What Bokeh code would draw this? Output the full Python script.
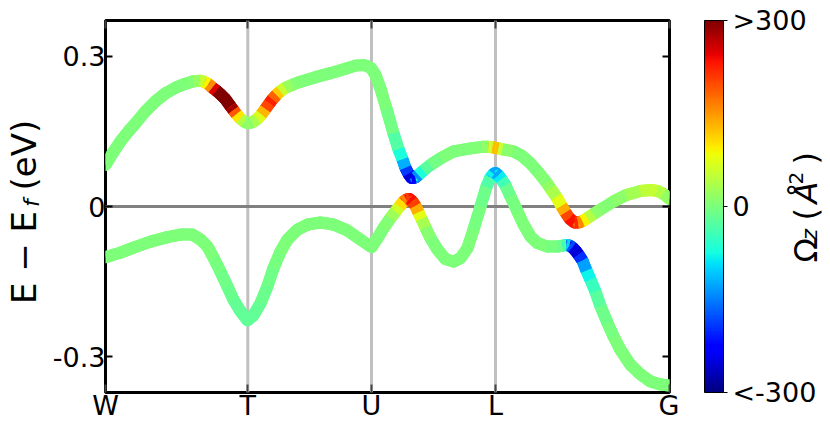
import numpy as np
from bokeh.plotting import figure
from bokeh.layouts import row
from bokeh.models import (ColumnDataSource, LinearColorMapper, ColorBar, FixedTicker,
                          LinearAxis, Span, Range1d)
from bokeh.core.properties import value
from bokeh.transform import transform
from bokeh.embed import file_html
from bokeh.resources import INLINE

# ---------------- data ----------------
KLABELS = ["W", "T", "U", "L", "G"]
KPOS = [0.0, 1.423, 2.66, 3.90, 5.64]
YTICKS = [-0.3, 0.0, 0.3]
YTICK_LABELS = ["-0.3", "0", "0.3"]
CB_TICKS = [-300, 0, 300]
CB_LABELS = ["<-300", "0", ">300"]

UPPER_K = [0.00, 0.07, 0.15, 0.23, 0.30, 0.40, 0.50, 0.60, 0.70, 0.80,
           0.88, 0.95, 0.99, 1.03, 1.07, 1.11, 1.15, 1.20, 1.25, 1.28,
           1.31, 1.35, 1.39, 1.43, 1.47, 1.52, 1.56, 1.60, 1.64, 1.67,
           1.71, 1.75, 1.80, 1.87, 1.95, 2.10, 2.25, 2.40, 2.50, 2.58,
           2.63, 2.66, 2.70, 2.75, 2.81, 2.88, 2.93, 2.97, 3.00, 3.03,
           3.06, 3.10, 3.13, 3.18, 3.25, 3.35, 3.48, 3.65, 3.77, 3.83,
           3.87, 3.90, 3.93, 3.97, 4.08, 4.17, 4.25, 4.33, 4.41, 4.45,
           4.51, 4.56, 4.60, 4.64, 4.69, 4.73, 4.77, 4.82, 4.88, 4.95,
           5.08, 5.21, 5.35, 5.45, 5.52, 5.58, 5.64]
UPPER_E = [0.083, 0.106, 0.130, 0.150, 0.166, 0.190, 0.210, 0.226, 0.237, 0.245,
           0.250, 0.251, 0.248, 0.244, 0.237, 0.231, 0.224, 0.214, 0.200, 0.192,
           0.184, 0.175, 0.169, 0.166, 0.168, 0.175, 0.184, 0.195, 0.206, 0.214,
           0.223, 0.230, 0.237, 0.243, 0.249, 0.258, 0.266, 0.275, 0.281, 0.282,
           0.279, 0.275, 0.262, 0.235, 0.195, 0.146, 0.114, 0.094, 0.077, 0.065,
           0.057, 0.058, 0.063, 0.072, 0.083, 0.096, 0.110, 0.116, 0.119, 0.119,
           0.118, 0.117, 0.116, 0.114, 0.110, 0.100, 0.086, 0.068, 0.048, 0.036,
           0.019, 0.001, -0.012, -0.024, -0.032, -0.032, -0.029, -0.023, -0.015, -0.006,
           0.010, 0.023, 0.031, 0.033, 0.031, 0.025, 0.015]
UPPER_W = [0, 0, 0, 0, 0, 0, 0, 0, 0, 0,
           5, 30, 70, 110, 200, 300, 350, 350, 320, 240,
           140, 60, 20, 5, 15, 50, 90, 170, 230, 220,
           150, 80, 30, 10, 0, 0, 0, 0, 0, 0,
           0, 0, 0, 0, 0, -10, -50, -90, -150, -230,
           -280, -180, -100, -40, -10, 0, 0, 0, 5, 20,
           90, 160, 90, 20, 0, 0, 0, 0, 10, 20,
           50, 100, 170, 230, 240, 200, 120, 60, 20, 5,
           5, 20, 40, 55, 50, 25, 10]

LOWER_K = [0.00, 0.15, 0.28, 0.45, 0.62, 0.75, 0.87, 0.95, 1.02, 1.08,
           1.15, 1.22, 1.28, 1.35, 1.42, 1.48, 1.55, 1.62, 1.68, 1.75,
           1.82, 1.92, 2.02, 2.15, 2.28, 2.42, 2.55, 2.66, 2.72, 2.78,
           2.85, 2.90, 2.94, 2.98, 3.01, 3.04, 3.07, 3.10, 3.13, 3.16,
           3.20, 3.25, 3.32, 3.40, 3.48, 3.55, 3.62, 3.68, 3.75, 3.81,
           3.85, 3.88, 3.90, 3.93, 3.96, 4.00, 4.05, 4.12, 4.18, 4.25,
           4.32, 4.42, 4.52, 4.57, 4.61, 4.64, 4.67, 4.70, 4.73, 4.77,
           4.81, 4.85, 4.90, 4.95, 5.02, 5.08, 5.15, 5.25, 5.35, 5.45,
           5.55, 5.64]
LOWER_E = [-0.101, -0.092, -0.082, -0.070, -0.061, -0.056, -0.056, -0.066, -0.080, -0.102,
           -0.130, -0.160, -0.186, -0.209, -0.227, -0.217, -0.193, -0.159, -0.123, -0.090,
           -0.066, -0.046, -0.036, -0.032, -0.036, -0.048, -0.066, -0.081, -0.063, -0.043,
           -0.023, -0.010, 0.000, 0.010, 0.014, 0.015, 0.010, 0.001, -0.012, -0.025,
           -0.042, -0.063, -0.086, -0.105, -0.110, -0.103, -0.083, -0.046, 0.000, 0.040,
           0.058, 0.065, 0.067, 0.062, 0.054, 0.042, 0.020, -0.010, -0.036, -0.060,
           -0.073, -0.080, -0.080, -0.078, -0.077, -0.078, -0.082, -0.088, -0.096, -0.108,
           -0.128, -0.146, -0.170, -0.199, -0.232, -0.259, -0.286, -0.316, -0.335, -0.349,
           -0.355, -0.357]
LOWER_W = [0, 0, 0, 0, 0, 0, 0, 0, 0, 0,
           -5, -10, -15, -20, -20, -20, -15, -10, -5, 0,
           0, 0, 0, 0, 0, 0, 0, 0, 0, 0,
           10, 40, 80, 130, 190, 230, 240, 170, 100, 50,
           15, 0, 0, 0, 0, 0, 0, 0, -5, -15,
           -50, -110, -140, -110, -60, -20, -5, 0, 0, 0,
           0, 0, -5, -15, -60, -140, -220, -280, -230, -160,
           -100, -60, -35, -15, -5, 0, 0, 0, 0, 0,
           0, 0]

NB = "\u00a0"
TH = "\u2009"
YLABEL_MAIN = NB + "E − E" + TH * 3 + "(eV)" + NB + NB
YLABEL_SUB = NB + "f"
CBLABEL_PARTS = ["Ω", "z", "(", "Å", "2", ")"]

# ---------------- jet colormap ----------------
def jet_palette(n=256):
    t = np.linspace(0, 1, n)
    r = np.interp(t, [0, 0.35, 0.66, 0.89, 1], [0, 0, 1, 1, 0.5])
    g = np.interp(t, [0, 0.125, 0.375, 0.64, 0.91, 1], [0, 0, 1, 1, 0, 0])
    b = np.interp(t, [0, 0.11, 0.34, 0.65, 1], [0.5, 1, 1, 0, 0])
    return ["#%02x%02x%02x" % (int(round(R * 255)), int(round(G * 255)), int(round(B * 255)))
            for R, G, B in zip(r, g, b)]

mapper = LinearColorMapper(palette=jet_palette(), low=-300, high=300)

FONT = "DejaVu Sans"
H = 433
TOP_B, BOT_B = 20, 41          # frame borders (frames of a row are aligned)
MAIN_W = 679
RIGHT_W = 830 - MAIN_W

# ---------------- main ----------------
p = figure(width=MAIN_W, height=H, x_range=Range1d(0, KPOS[-1]), y_range=Range1d(-0.371, 0.371),
           output_backend="svg", toolbar_location=None,
           min_border_left=105, min_border_right=10, min_border_top=TOP_B, min_border_bottom=BOT_B)
p.grid.visible = False
p.outline_line_color = "black"
p.outline_line_width = 3
p.background_fill_color = "white"
p.border_fill_color = "white"

for k in KPOS[1:-1]:
    p.add_layout(Span(location=k, dimension="height", line_color="#c0c0c0", line_width=3, level="underlay"))
p.add_layout(Span(location=0, dimension="width", line_color="#808080", line_width=3, level="underlay"))


def seg_source(k, e, w):
    k = np.asarray(k, float); e = np.asarray(e, float); w = np.asarray(w, float)
    return ColumnDataSource(dict(x0=k[:-1], y0=e[:-1], x1=k[1:], y1=e[1:], w=(w[:-1] + w[1:]) / 2))


for K, E, W in [(LOWER_K, LOWER_E, LOWER_W), (UPPER_K, UPPER_E, UPPER_W)]:
    src = seg_source(K, E, W)
    p.segment("x0", "y0", "x1", "y1", source=src,
              line_color=transform("w", mapper), line_width=12, line_cap="round")
    p.segment("x0", "y0", "x1", "y1", source=src,
              line_color=transform("w", mapper), line_width=12, line_cap="butt")


def style_axis(ax, tick_len):
    ax.axis_line_color = None
    ax.major_tick_in = tick_len
    ax.major_tick_out = 0
    ax.major_tick_line_color = "black"
    ax.major_tick_line_width = 2
    ax.minor_tick_line_color = None
    ax.major_label_text_font = FONT
    ax.major_label_text_font_size = "27px"
    ax.major_label_text_color = "black"


xa = p.xaxis[0]
xa.ticker = FixedTicker(ticks=KPOS)
xa.major_label_overrides = {k: l for k, l in zip(KPOS, KLABELS)}
style_axis(xa, 8)
xa.major_tick_line_color = "#444444"
xa.major_label_standoff = -3

ya = p.yaxis[0]
ya.ticker = FixedTicker(ticks=YTICKS)
ya.major_label_overrides = {k: l for k, l in zip(YTICKS, YTICK_LABELS)}
style_axis(ya, 7)
ya.major_label_standoff = 0
ya.axis_label = YLABEL_SUB
ya.axis_label_text_font = FONT
ya.axis_label_text_font_size = "22px"
ya.axis_label_text_font_style = "italic"
ya.axis_label_text_color = "black"
ya.axis_label_standoff = 6

# outer left axis carrying the main part of the y label
ylab = LinearAxis(ticker=FixedTicker(ticks=[]), axis_label=YLABEL_MAIN,
                  axis_line_color=None, major_tick_line_color=None, minor_tick_line_color=None,
                  major_label_text_font_size="1px", major_label_standoff=0,
                  axis_label_text_font=FONT, axis_label_text_font_size="34px",
                  axis_label_text_font_style="normal", axis_label_text_color="black",
                  axis_label_standoff=-28)
p.add_layout(ylab, "left")

top = LinearAxis(ticker=FixedTicker(ticks=KPOS), major_label_overrides={k: "" for k in KPOS})
style_axis(top, 8)
top.major_tick_line_color = "#444444"
top.major_label_text_font_size = "1px"
top.major_label_standoff = 0
p.add_layout(top, "above")

right = LinearAxis(ticker=FixedTicker(ticks=YTICKS), major_label_overrides={k: "" for k in YTICKS})
style_axis(right, 7)
right.major_label_text_font_size = "1px"
right.major_label_standoff = 0
p.add_layout(right, "right")

# ---------------- right: colour bar ----------------
pr = figure(width=RIGHT_W, height=H, x_range=Range1d(0, RIGHT_W), y_range=Range1d(BOT_B, H - TOP_B),
            x_axis_type=None, y_axis_type=None, output_backend="svg",
            toolbar_location=None, min_border=0, min_border_top=TOP_B, min_border_bottom=BOT_B)
pr.grid.visible = False
pr.outline_line_color = None
pr.background_fill_color = "white"
pr.border_fill_color = "white"

cb = ColorBar(color_mapper=mapper, ticker=FixedTicker(ticks=CB_TICKS),
              major_label_overrides={k: l for k, l in zip(CB_TICKS, CB_LABELS)},
              width=19, height=372, padding=0, margin=0, location=(25, 0),
              bar_line_color="black", bar_line_width=1,
              major_tick_line_color="black", major_tick_in=0, major_tick_out=4,
              minor_tick_line_color=None, label_standoff=5,
              major_label_text_font=FONT, major_label_text_font_size="27px",
              major_label_text_color="black",
              border_line_color=None, background_fill_alpha=0)
pr.add_layout(cb, "center")


def vtext(f, x, y, text, size, style="normal"):
    f.text(x=[x], y=[y], text=[text], angle=np.pi / 2, text_font=value(FONT),
           text_font_size=value(size), text_font_style=value(style), text_color="black",
           text_align="left", text_baseline="alphabetic")


vtext(pr, 126, 171, CBLABEL_PARTS[0], "32px")
vtext(pr, 130, 193, CBLABEL_PARTS[1], "22px", "italic")
vtext(pr, 126, 213, CBLABEL_PARTS[2], "32px")
vtext(pr, 126, 230, CBLABEL_PARTS[3], "32px", "italic")
vtext(pr, 116, 249, CBLABEL_PARTS[4], "20px")
vtext(pr, 126, 269, CBLABEL_PARTS[5], "32px")

layout = row(p, pr)
open("out.html", "w").write(file_html(layout, INLINE))
